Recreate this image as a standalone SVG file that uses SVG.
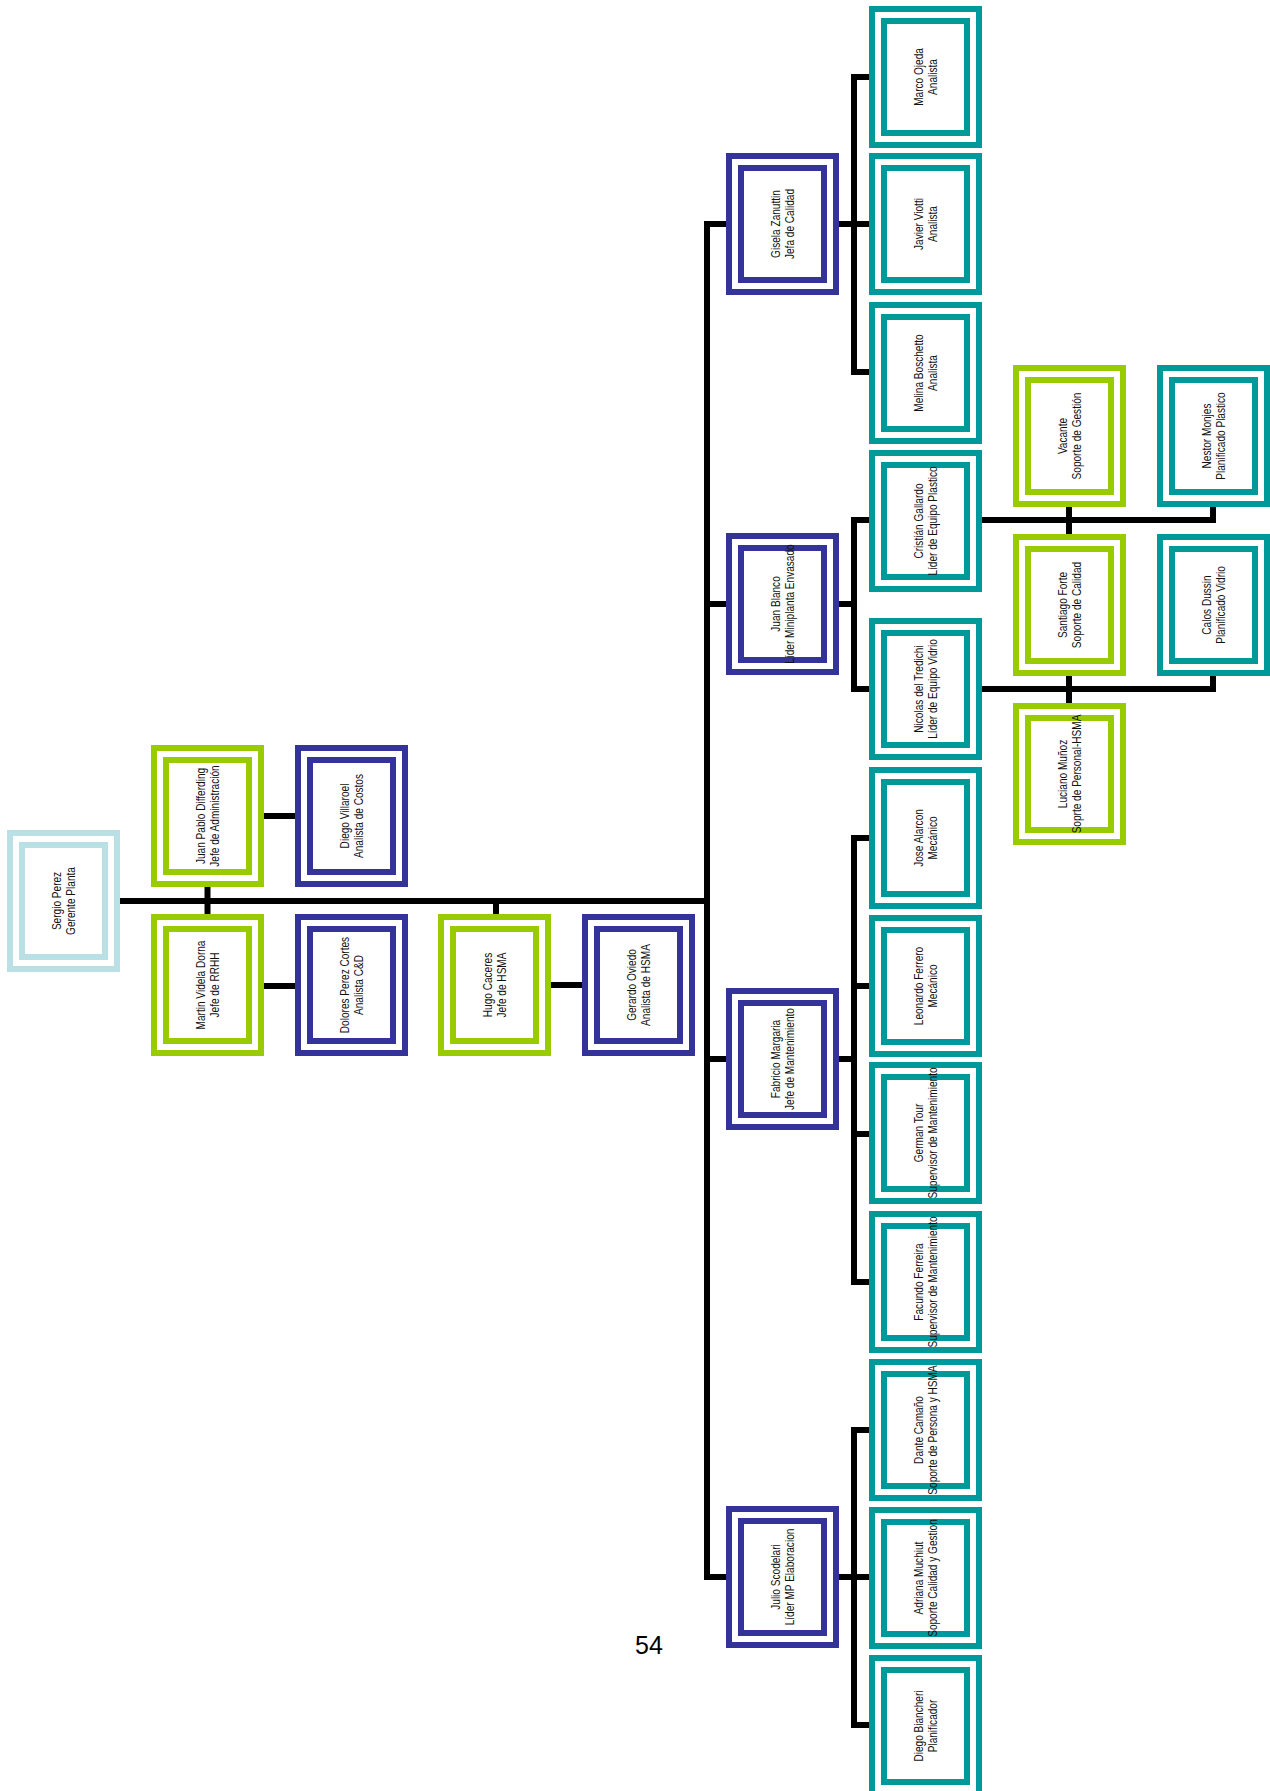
<svg xmlns="http://www.w3.org/2000/svg" width="1270" height="1791" viewBox="0 0 1270 1791">
<style>
.node rect{fill:#ffffff;stroke-width:6}
.lb rect{stroke:#b9e0e4}
.gr rect{stroke:#99cc00}
.nv rect{stroke:#333399}
.tl rect{stroke:#009999}
.node text{font-family:"Liberation Sans",Arial,sans-serif;font-size:12px;fill:#111;text-anchor:middle}
#connectors path{fill:none;stroke:#000;stroke-width:6;stroke-linejoin:miter;stroke-linecap:butt}
.pg{font-family:"Liberation Sans",Arial,sans-serif;font-size:25px;fill:#000;text-anchor:middle}
</style>
<rect width="1270" height="1791" fill="#ffffff"/>
<g id="connectors">
<path d="M118,901 H710"/>
<path d="M207.5,885 V916"/>
<path d="M262,816 H297"/>
<path d="M262,986 H297"/>
<path d="M496,901 V916"/>
<path d="M549,985 H584"/>
<path d="M728,224 H707 V1577 H728"/>
<path d="M707,604 H728"/>
<path d="M707,1059 H728"/>
<path d="M836,224 H854"/>
<path d="M871,77 H854 V372 H871"/>
<path d="M854,224 H871"/>
<path d="M836,604 H854"/>
<path d="M871,520 H854 V689 H871"/>
<path d="M836,1059 H854"/>
<path d="M871,838 H854 V1282 H871"/>
<path d="M854,986 H871"/>
<path d="M854,1134 H871"/>
<path d="M836,1577 H854"/>
<path d="M871,1430 H854 V1725 H871"/>
<path d="M854,1577 H871"/>
<path d="M980,520 H1213 V505"/>
<path d="M1069,505 V536"/>
<path d="M980,689 H1213 V673"/>
<path d="M1069,673 V705"/>
</g>
<g id="n-sergio" class="node lb"><rect x="10" y="833" width="107" height="136"/><rect x="22" y="845" width="83" height="112"/><text transform="translate(63.5,901) rotate(-90) scale(0.84,1)"><tspan x="0" y="-2.5">Sergio Perez</tspan><tspan x="0" y="11.5">Gerente Planta</tspan></text></g>
<g id="n-juanpablo" class="node gr"><rect x="154" y="748" width="107" height="136"/><rect x="166" y="760" width="83" height="112"/><text transform="translate(207.5,816) rotate(-90) scale(0.84,1)"><tspan x="0" y="-2.5">Juan Pablo Differding</tspan><tspan x="0" y="11.5">Jefe de  Administración</tspan></text></g>
<g id="n-diegov" class="node nv"><rect x="298" y="748" width="107" height="136"/><rect x="310" y="760" width="83" height="112"/><text transform="translate(351.5,816) rotate(-90) scale(0.84,1)"><tspan x="0" y="-2.5">Diego Villaroel</tspan><tspan x="0" y="11.5">Analista de Costos</tspan></text></g>
<g id="n-martin" class="node gr"><rect x="154" y="917" width="107" height="136"/><rect x="166" y="929" width="83" height="112"/><text transform="translate(207.5,985) rotate(-90) scale(0.84,1)"><tspan x="0" y="-2.5">Martin Videla Dorna</tspan><tspan x="0" y="11.5">Jefe de RRHH</tspan></text></g>
<g id="n-dolores" class="node nv"><rect x="298" y="917" width="107" height="136"/><rect x="310" y="929" width="83" height="112"/><text transform="translate(351.5,985) rotate(-90) scale(0.84,1)"><tspan x="0" y="-2.5">Dolores Perez Cortes</tspan><tspan x="0" y="11.5">Analista C&amp;D</tspan></text></g>
<g id="n-hugo" class="node gr"><rect x="441" y="917" width="107" height="136"/><rect x="453" y="929" width="83" height="112"/><text transform="translate(494.5,985) rotate(-90) scale(0.84,1)"><tspan x="0" y="-2.5">Hugo Caceres</tspan><tspan x="0" y="11.5">Jefe de HSMA</tspan></text></g>
<g id="n-gerardo" class="node nv"><rect x="585" y="917" width="107" height="136"/><rect x="597" y="929" width="83" height="112"/><text transform="translate(638.5,985) rotate(-90) scale(0.84,1)"><tspan x="0" y="-2.5">Gerardo Oviedo</tspan><tspan x="0" y="11.5">Analista de HSMA</tspan></text></g>
<g id="n-gisela" class="node nv"><rect x="729" y="156" width="107" height="136"/><rect x="741" y="168" width="83" height="112"/><text transform="translate(782.5,224) rotate(-90) scale(0.84,1)"><tspan x="0" y="-2.5">Gisela Zanuttin</tspan><tspan x="0" y="11.5">Jefa de Calidad</tspan></text></g>
<g id="n-juanblanco" class="node nv"><rect x="729" y="536" width="107" height="136"/><rect x="741" y="548" width="83" height="112"/><text transform="translate(782.5,604) rotate(-90) scale(0.84,1)"><tspan x="0" y="-2.5">Juan Blanco</tspan><tspan x="0" y="11.5">Líder Miniplanta Envasado</tspan></text></g>
<g id="n-fabricio" class="node nv"><rect x="729" y="991" width="107" height="136"/><rect x="741" y="1003" width="83" height="112"/><text transform="translate(782.5,1059) rotate(-90) scale(0.84,1)"><tspan x="0" y="-2.5">Fabricio Margaria</tspan><tspan x="0" y="11.5">Jefe de Mantenimiento</tspan></text></g>
<g id="n-julio" class="node nv"><rect x="729" y="1509" width="107" height="136"/><rect x="741" y="1521" width="83" height="112"/><text transform="translate(782.5,1577) rotate(-90) scale(0.84,1)"><tspan x="0" y="-2.5">Julio Scodelari</tspan><tspan x="0" y="11.5">Líder MP Elaboracion</tspan></text></g>
<g id="n-marco" class="node tl"><rect x="872" y="9" width="107" height="136"/><rect x="884" y="21" width="83" height="112"/><text transform="translate(925.5,77) rotate(-90) scale(0.84,1)"><tspan x="0" y="-2.5">Marco Ojeda</tspan><tspan x="0" y="11.5">Analista</tspan></text></g>
<g id="n-javier" class="node tl"><rect x="872" y="156" width="107" height="136"/><rect x="884" y="168" width="83" height="112"/><text transform="translate(925.5,224) rotate(-90) scale(0.84,1)"><tspan x="0" y="-2.5">Javier Viotti</tspan><tspan x="0" y="11.5">Analista</tspan></text></g>
<g id="n-melina" class="node tl"><rect x="872" y="305" width="107" height="136"/><rect x="884" y="317" width="83" height="112"/><text transform="translate(925.5,373) rotate(-90) scale(0.84,1)"><tspan x="0" y="-2.5">Melina Boschetto</tspan><tspan x="0" y="11.5">Analista</tspan></text></g>
<g id="n-cristian" class="node tl"><rect x="872" y="453" width="107" height="136"/><rect x="884" y="465" width="83" height="112"/><text transform="translate(925.5,521) rotate(-90) scale(0.84,1)"><tspan x="0" y="-2.5">Cristián Gallardo</tspan><tspan x="0" y="11.5">Líder de Equipo Plastico</tspan></text></g>
<g id="n-nicolas" class="node tl"><rect x="872" y="621" width="107" height="136"/><rect x="884" y="633" width="83" height="112"/><text transform="translate(925.5,689) rotate(-90) scale(0.84,1)"><tspan x="0" y="-2.5">Nicolas del Tredichi</tspan><tspan x="0" y="11.5">Líder de Equipo Vidrio</tspan></text></g>
<g id="n-jose" class="node tl"><rect x="872" y="770" width="107" height="136"/><rect x="884" y="782" width="83" height="112"/><text transform="translate(925.5,838) rotate(-90) scale(0.84,1)"><tspan x="0" y="-2.5">Jose Alarcon</tspan><tspan x="0" y="11.5">Mecánico</tspan></text></g>
<g id="n-leonardo" class="node tl"><rect x="872" y="918" width="107" height="136"/><rect x="884" y="930" width="83" height="112"/><text transform="translate(925.5,986) rotate(-90) scale(0.84,1)"><tspan x="0" y="-2.5">Leonardo Ferrero</tspan><tspan x="0" y="11.5">Mecánico</tspan></text></g>
<g id="n-german" class="node tl"><rect x="872" y="1065" width="107" height="136"/><rect x="884" y="1077" width="83" height="112"/><text transform="translate(925.5,1133) rotate(-90) scale(0.84,1)"><tspan x="0" y="-2.5">German Tour</tspan><tspan x="0" y="11.5">Supervisor de Mantenimiento</tspan></text></g>
<g id="n-facundo" class="node tl"><rect x="872" y="1214" width="107" height="136"/><rect x="884" y="1226" width="83" height="112"/><text transform="translate(925.5,1282) rotate(-90) scale(0.84,1)"><tspan x="0" y="-2.5">Facundo Ferreira</tspan><tspan x="0" y="11.5">Supervisor de Mantenimiento</tspan></text></g>
<g id="n-dante" class="node tl"><rect x="872" y="1362" width="107" height="136"/><rect x="884" y="1374" width="83" height="112"/><text transform="translate(925.5,1430) rotate(-90) scale(0.84,1)"><tspan x="0" y="-2.5">Dante Camaño</tspan><tspan x="0" y="11.5">Soporte de Persona y HSMA</tspan></text></g>
<g id="n-adriana" class="node tl"><rect x="872" y="1510" width="107" height="136"/><rect x="884" y="1522" width="83" height="112"/><text transform="translate(925.5,1578) rotate(-90) scale(0.84,1)"><tspan x="0" y="-2.5">Adriana Muchiut</tspan><tspan x="0" y="11.5">Soporte Calidad y Gestion</tspan></text></g>
<g id="n-diegob" class="node tl"><rect x="872" y="1658" width="107" height="136"/><rect x="884" y="1670" width="83" height="112"/><text transform="translate(925.5,1726) rotate(-90) scale(0.84,1)"><tspan x="0" y="-2.5">Diego Biancheri</tspan><tspan x="0" y="11.5">Planificador</tspan></text></g>
<g id="n-vacante" class="node gr"><rect x="1016" y="368" width="107" height="136"/><rect x="1028" y="380" width="83" height="112"/><text transform="translate(1069.5,436) rotate(-90) scale(0.84,1)"><tspan x="0" y="-2.5">Vacante</tspan><tspan x="0" y="11.5">Soporte de Gestión</tspan></text></g>
<g id="n-santiago" class="node gr"><rect x="1016" y="537" width="107" height="136"/><rect x="1028" y="549" width="83" height="112"/><text transform="translate(1069.5,605) rotate(-90) scale(0.84,1)"><tspan x="0" y="-2.5">Santiago Forte</tspan><tspan x="0" y="11.5">Soporte de Calidad</tspan></text></g>
<g id="n-luciano" class="node gr"><rect x="1016" y="706" width="107" height="136"/><rect x="1028" y="718" width="83" height="112"/><text transform="translate(1069.5,774) rotate(-90) scale(0.84,1)"><tspan x="0" y="-2.5">Luciano Muñoz</tspan><tspan x="0" y="11.5">Soprte de Personal-HSMA</tspan></text></g>
<g id="n-nestor" class="node tl"><rect x="1160" y="368" width="107" height="136"/><rect x="1172" y="380" width="83" height="112"/><text transform="translate(1213.5,436) rotate(-90) scale(0.84,1)"><tspan x="0" y="-2.5">Nestor Monjes</tspan><tspan x="0" y="11.5">Planificado Plastico</tspan></text></g>
<g id="n-calos" class="node tl"><rect x="1160" y="537" width="107" height="136"/><rect x="1172" y="549" width="83" height="112"/><text transform="translate(1213.5,605) rotate(-90) scale(0.84,1)"><tspan x="0" y="-2.5">Calos Dussin</tspan><tspan x="0" y="11.5">Planificado Vidrio</tspan></text></g>
<text class="pg" x="649" y="1654">54</text>
</svg>
